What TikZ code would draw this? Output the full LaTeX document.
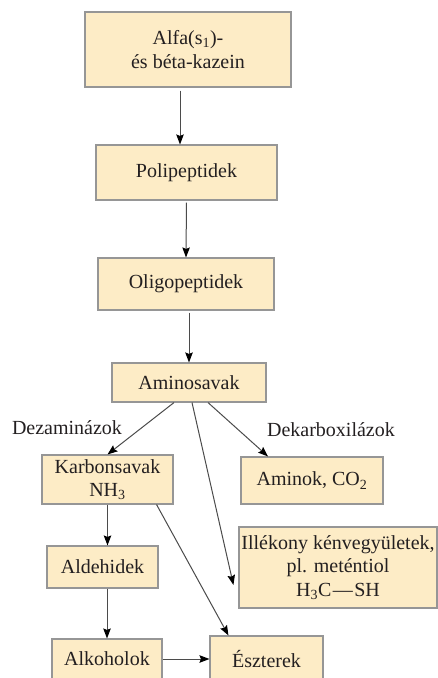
\documentclass[tikz,border=0pt]{standalone}
\usepackage{fontspec}
\setmainfont{Liberation Serif}
\usepackage{xcolor}
\usetikzlibrary{arrows.meta}

\definecolor{dobozszin}{RGB}{253,236,198}
\definecolor{keretszin}{RGB}{150,150,150}
\definecolor{nyilszin}{RGB}{75,75,75}
\definecolor{betuszin}{RGB}{35,31,32}

\begin{document}
\begin{tikzpicture}[x=1pt,y=1pt,yscale=-1,xscale=1,
    doboz/.style={draw=keretszin,line width=1.1pt,fill=dobozszin,inner sep=0pt,align=center,text=betuszin,font=\rmfamily\fontsize{20}{23.5}\selectfont},
    felirat/.style={inner sep=0pt,text=betuszin,font=\rmfamily\fontsize{20}{23.5}\selectfont},
    nyil/.style={draw=nyilszin,line width=1pt,-{Stealth[length=10pt,width=7.5pt,inset=1.5pt,color=black]}}]
\clip (0,0) rectangle (438,678);
% dobozok
\node [doboz,minimum width=206pt,minimum height=75pt] (alfa) at (188,49.5) {Alfa(s\textsubscript{1})-\\és béta-kazein};
\node [doboz,minimum width=181pt,minimum height=55pt] (poli) at (186.5,172.5) {Polipeptidek};
\node [doboz,minimum width=176pt,minimum height=52pt] (oligo) at (186,284) {Oligopeptidek};
\node [doboz,minimum width=154pt,minimum height=39pt] (amino) at (189,382.5) {Aminosavak};
\node [doboz,minimum width=131pt,minimum height=49pt] (karbon) at (107.5,479.5) {Karbonsavak\\NH\textsubscript{3}};
\node [doboz,minimum width=142pt,minimum height=47pt] (aminok) at (312,480.5) {Aminok, CO\textsubscript{2}};
\node [doboz,minimum width=198pt,minimum height=81pt] (illek) at (338,567.5) {Illékony kénvegyületek,\\pl. meténtiol\\H\textsubscript{3}C\kern1.5pt—\kern1.5pt SH};
\node [doboz,minimum width=111pt,minimum height=42pt] (aldeh) at (102.5,567) {Aldehidek};
\node [doboz,minimum width=110pt,minimum height=40pt] (alkoh) at (107,659) {Alkoholok};
\node [doboz,minimum width=113pt,minimum height=46pt] (eszter) at (266.5,659) {Észterek};
% enzimek
\node [felirat] (dezam) at (67,428) {Dezaminázok};
\node [felirat] (dekarb) at (331,430) {Dekarboxilázok};
% nyilak
\draw [nyil,shorten <=3pt] ([xshift=-8pt]alfa.south) -- ([xshift=-6.5pt]poli.north);
\draw [nyil,shorten <=2pt] (poli.south) -- ([xshift=-0.5pt]poli.south |- oligo.north);
\draw [nyil,shorten <=2pt] ([xshift=3pt]oligo.south) -- (amino.north);
\draw [nyil] ([xshift=-15pt]amino.south) -- (karbon.north);
\draw [nyil] ([xshift=3pt]amino.south) -- ([xshift=-5pt,yshift=17.5pt]illek.west);
\draw [nyil] ([xshift=19pt]amino.south) -- ([xshift=-44pt]aminok.north);
\draw [nyil] (karbon.south) -- ([xshift=5pt]aldeh.north);
\draw [nyil] ([xshift=-17pt]karbon.south east) -- ([xshift=19pt]eszter.north west);
\draw [nyil] ([xshift=4.5pt]aldeh.south) -- (alkoh.north);
\draw [nyil] (alkoh.east) -- (eszter.west);
\end{tikzpicture}
\end{document}
